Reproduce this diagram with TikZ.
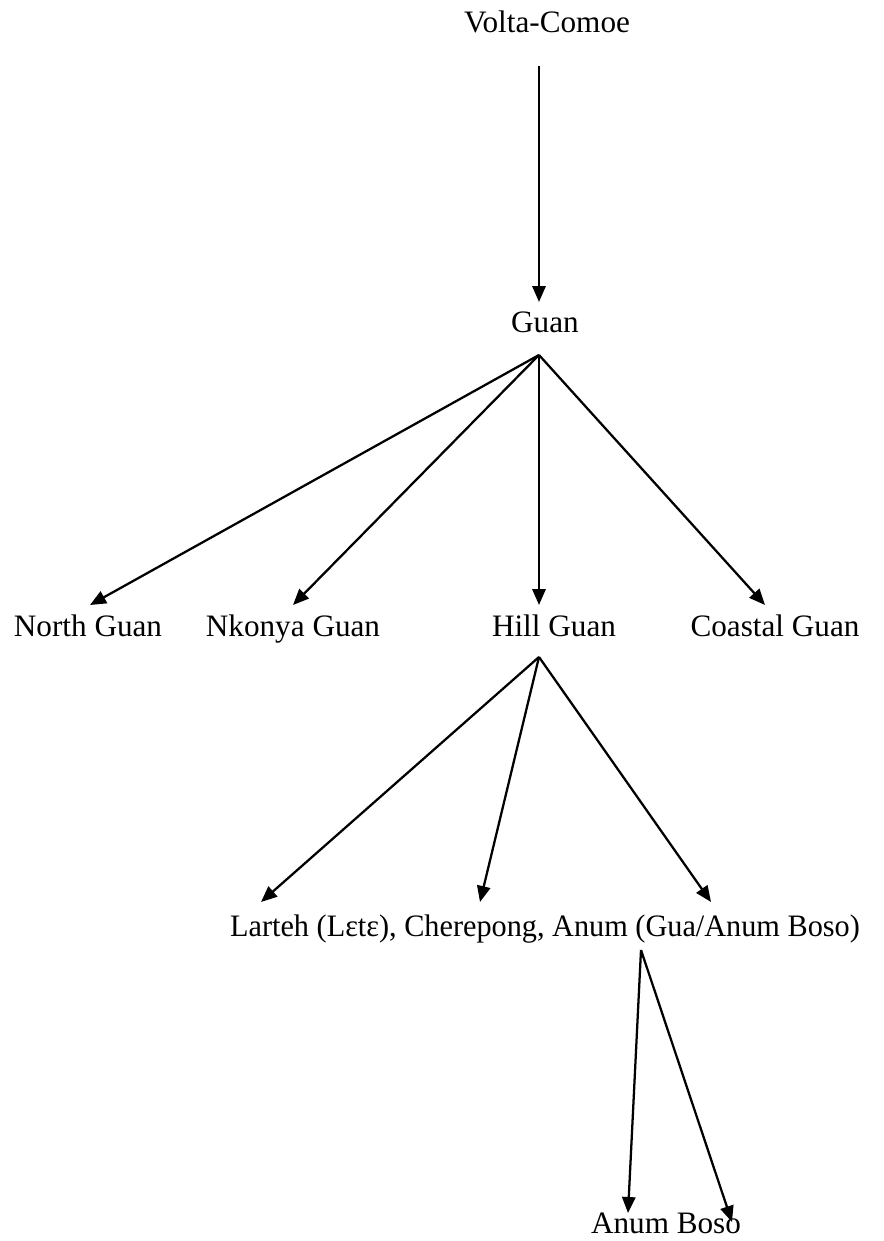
\documentclass[tikz,border=0pt]{standalone}
\usepackage{fontspec}
\setmainfont{Liberation Serif}
\usetikzlibrary{arrows.meta}
\begin{document}
\begin{tikzpicture}[x=0.75pt,y=-0.75pt,
  lbl/.style={inner sep=0pt,anchor=base,font=\fontsize{23.4}{28}\selectfont},
  branch/.style={line width=1.7pt,-{Triangle[length=12pt,width=10pt]}}]
\useasboundingbox (0,0) rectangle (883,1241);

% labels, placed by baseline
\node[lbl] (vc) at (547,33) {Volta-Comoe};
\node[lbl] (guan) at (545,332) {Guan};
\node[lbl] (north) at (88,636) {North Guan};
\node[lbl] (nkonya) at (293,636) {Nkonya Guan};
\node[lbl] (hill) at (554,636) {Hill Guan};
\node[lbl] (coastal) at (775,636) {Coastal Guan};
\node[lbl,xscale=0.97] (hilllist) at (545,936) {Larteh (Lɛtɛ), Cherepong, Anum (Gua/Anum Boso)};
\node[lbl] (boso) at (666,1233) {Anum Boso};

% fan points and arrow ends
\coordinate (vcfoot) at (539,66);
\coordinate (guanin) at (539,302);
\coordinate (guanfoot) at (539,355);
\coordinate (northin) at (90,605);
\coordinate (nkonyain) at (293,605);
\coordinate (hillin) at (539,605);
\coordinate (coastalin) at (765,605);
\coordinate (hillfoot) at (539,657);
\coordinate (lartehin) at (261,902);
\coordinate (cherin) at (480,902);
\coordinate (anumin) at (711,902);
\coordinate (anumfoot) at (641,950);
\coordinate (bosoinA) at (628,1213);
\coordinate (bosoinB) at (732,1222);

% connectors
\draw[branch] (vcfoot) -- (guanin);
\draw[branch] (guanfoot) -- (northin);
\draw[branch] (guanfoot) -- (nkonyain);
\draw[branch] (guanfoot) -- (hillin);
\draw[branch] (guanfoot) -- (coastalin);
\draw[branch] (hillfoot) -- (lartehin);
\draw[branch] (hillfoot) -- (cherin);
\draw[branch] (hillfoot) -- (anumin);
\draw[branch] (anumfoot) -- (bosoinA);
\draw[branch] (anumfoot) -- (bosoinB);
\end{tikzpicture}
\end{document}
